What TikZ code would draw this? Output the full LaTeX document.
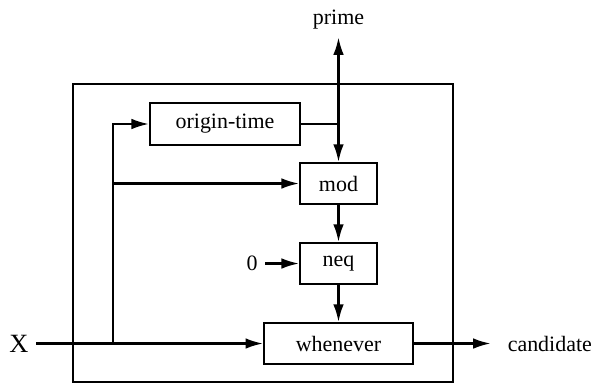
\documentclass[tikz,border=0pt]{standalone}
\usepackage{fontspec}
\setmainfont{Liberation Serif}
\usetikzlibrary{arrows.meta}

\begin{document}
\begin{tikzpicture}[x=0.016cm, y=-0.016cm,
    >={Latex[length=2.8mm,width=1.7mm]},
    blk/.style={draw, line width=1pt, minimum height=0.66cm, inner sep=2pt}]
    \useasboundingbox (0,0) rectangle (599,384);
    \draw [line width=0.9pt] (73,84) rectangle (453,382);
    \node[blk, minimum width=2.4cm] at (225,124) (origin) {origin-time};
    \node[blk, minimum width=1.23cm] at (338.5,183.5) (mod) {mod};
    \node[blk, minimum width=1.23cm] at (338.5,263.5) (neq) {neq};
    \node[blk, minimum width=2.38cm] at (338.5,343.5) (whenever) {whenever};
    \node at (338.5,20) (prime) {prime};
    \node at (19,343.5) (X) {\large X};
    \node at (252,263.5) (zero) {0};
    \node[anchor=west] at (500,343.5) (candidate) {candidate};
    \coordinate (split) at (113,343.5);
    \draw [line width=1pt, <->] (prime) -- (mod);
    \draw [line width=1pt] (origin) -- (origin -| mod);
    \draw [line width=1pt, ->] (X) -- (whenever);
    \draw [line width=1pt, ->] (split) |- (origin);
    \draw [line width=1pt, ->] (split) |- (mod);
    \draw [line width=1pt, ->] (mod) -- (neq);
    \draw [line width=1pt, ->] (zero) -- (neq);
    \draw [line width=1pt, ->] (neq) -- (whenever);
    \draw [line width=1pt, ->, shorten >=1.5mm] (whenever) -- (candidate);
\end{tikzpicture}
\end{document}
